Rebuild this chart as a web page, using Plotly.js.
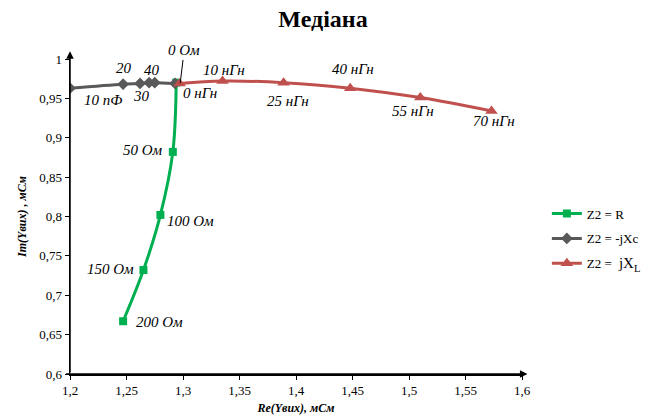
<!DOCTYPE html>
<html><head><meta charset="utf-8">
<script src="https://cdn.plot.ly/plotly-3.0.1.min.js"></script>
<style>body{margin:0;background:#fff}#chart{width:646px;height:420px}</style>
</head><body><div id="chart"></div>
<script>
// Z2 = R
const rX = [1.294, 1.291, 1.280, 1.265, 1.247];
const rY = [0.970, 0.882, 0.802, 0.732, 0.667];
const rLabels = ['0 Ом', '50 Ом', '100 Ом', '150 Ом', '200 Ом'];
// Z2 = -jXc
const cX = [1.200, 1.247, 1.262, 1.270, 1.275, 1.293];
const cY = [0.963, 0.968, 0.969, 0.970, 0.970, 0.969];
const cLabels = ['10 пФ', '20', '30', '40', '', ''];
// Z2 = jXL
const lX = [1.297, 1.335, 1.389, 1.448, 1.510, 1.573];
const lY = [0.969, 0.972, 0.970, 0.963, 0.951, 0.934];
const lLabels = ['0 нГн', '10 нГн', '25 нГн', '40 нГн', '55 нГн', '70 нГн'];
const xTicks = [1.2, 1.25, 1.3, 1.35, 1.4, 1.45, 1.5, 1.55, 1.6];
const yTicks = [0.6, 0.65, 0.7, 0.75, 0.8, 0.85, 0.9, 0.95, 1];
const fmt = v => String(v).replace('.', ',');

// label offsets (pixels)
const rOff = [null, [-30, -2], [30, 6], [-33, -1], [36, 1]];
const cOff = [[33, 12], [1, -16], [1, 13], [3, -13], null, null];
const lOff = [[20, 10], [1, -11], [4, 18], [3, -19], [-7, 13], [3, 10]];

const serif = 'Liberation Serif';
const annotations = [];
function addLabels(xs, ys, labels, offs) {
  labels.forEach((t, i) => {
    if (!t || !offs[i]) return;
    annotations.push({x: xs[i], y: ys[i], xref: 'x', yref: 'y', text: t, showarrow: false,
      xshift: offs[i][0], yshift: -offs[i][1],
      font: {family: serif, size: 15, color: '#000', style: 'italic'}});
  });
}
addLabels(rX, rY, rLabels, rOff);
addLabels(cX, cY, cLabels, cOff);
addLabels(lX, lY, lLabels, lOff);
// 0 Ом with leader line
annotations.push({x: lX[0] + 0.0005, y: lY[0], xref: 'x', yref: 'y', text: rLabels[0], showarrow: true,
  arrowhead: 0, arrowwidth: 1, arrowcolor: '#000', ax: 4, ay: -33, standoff: 0,
  font: {family: serif, size: 15, color: '#000', style: 'italic'}});
// axis arrows
annotations.push({x: 0, y: 1.025, xref: 'paper', yref: 'paper', ax: 0, ay: 0.0, axref: 'paper', ayref: 'paper',
  showarrow: true, arrowhead: 2, arrowsize: 1, arrowwidth: 1.5, arrowcolor: '#000', text: ''});
annotations.push({x: 1.012, y: 0, xref: 'paper', yref: 'paper', ax: -0.012, ay: 0, axref: 'paper', ayref: 'paper',
  showarrow: true, arrowhead: 2, arrowsize: 1, arrowwidth: 1.5, arrowcolor: '#000', text: ''});

const traces = [
  {x: rX, y: rY, name: 'Z2 = R', mode: 'lines+markers', line: {color: '#00B050', width: 3, shape: 'spline'},
   marker: {symbol: 'square', size: 8, color: '#00B050'}, legendgroup: 'a'},
  {x: cX, y: cY, name: 'Z2 = -jXc', mode: 'lines+markers', line: {color: '#595959', width: 3, shape: 'spline'},
   marker: {symbol: 'diamond', size: 9, color: '#595959'}, legendgroup: 'b'},
  {x: lX, y: lY, name: 'Z2 = <span style="font-size:15px"> jX<sub>L</sub></span>', mode: 'lines+markers', line: {color: '#C0504D', width: 3, shape: 'spline'},
   marker: {symbol: 'triangle-up', size: 11, color: '#C0504D'}, legendgroup: 'c'}
];

const layout = {
  width: 646, height: 420,
  margin: {l: 70, r: 124, t: 59, b: 46, autoexpand: false},
  paper_bgcolor: '#fff', plot_bgcolor: '#fff',
  font: {family: serif, size: 13, color: '#000'},
  title: {text: '<b>Медіана</b>', font: {family: serif, size: 24, color: '#000'}, x: 0.5, xanchor: 'center', y: 0.975},
  showlegend: true,
  legend: {x: 1.055, y: 0.43, xanchor: 'left', yanchor: 'middle', font: {family: serif, size: 13, color: '#000'},
    traceorder: 'grouped', tracegroupgap: 5, itemwidth: 30, bgcolor: 'rgba(0,0,0,0)'},
  xaxis: {range: [1.2, 1.6], tickvals: xTicks, ticktext: xTicks.map(fmt), showgrid: false, zeroline: false,
    showline: true, linecolor: '#000', linewidth: 1.5, ticks: 'outside', ticklen: 4, tickcolor: '#000',
    tickfont: {family: serif, size: 13},
    title: {text: '<b><i>Re(Yвих), мСм</i></b>', font: {family: serif, size: 12}, standoff: 6}},
  yaxis: {range: [0.6, 1], tickvals: yTicks, ticktext: yTicks.map(fmt), showgrid: false, zeroline: false,
    showline: true, linecolor: '#000', linewidth: 1.5, ticks: 'outside', ticklen: 4, tickcolor: '#000',
    tickfont: {family: serif, size: 13},
    title: {text: '<b><i>Im(Yвих) , мСм</i></b>', font: {family: serif, size: 12}, standoff: 10}},
  annotations: annotations
};
Plotly.newPlot('chart', traces, layout, {displayModeBar: false, staticPlot: true});
</script></body></html>
